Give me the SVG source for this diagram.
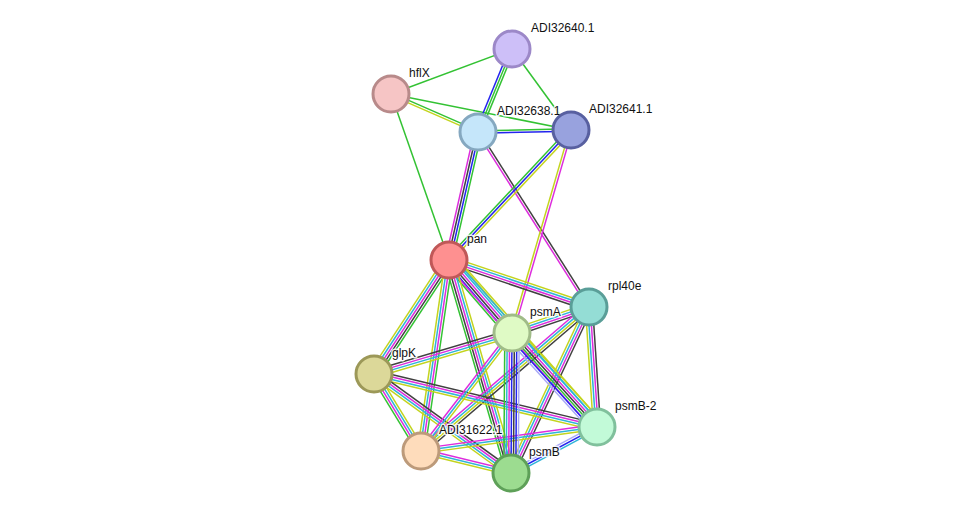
<svg xmlns="http://www.w3.org/2000/svg" width="975" height="519" viewBox="0 0 975 519">
<style>
#edges line{stroke-width:1.5;fill:none}
.g{stroke:#33c233}.b{stroke:#2424ee}.k{stroke:#404040}.m{stroke:#dd2ddd}.c{stroke:#2fb4d8}.y{stroke:#c3d41e}.h{stroke:#aaaaf6}
.node circle{stroke-width:3}
.node text{font-family:"Liberation Sans",Arial,sans-serif;font-size:12px;fill:#111;stroke:#fff;stroke-width:3;stroke-opacity:0.85;paint-order:stroke;stroke-linejoin:round}
</style>
<rect width="975" height="519" fill="#fff"/>
<g id="edges">
<g transform="translate(391,94) rotate(-20.4)"><line class="g" x2="129.1"/></g>
<g transform="translate(391,94) rotate(23.6)"><line class="g" x2="94.9" y1="-1.2" y2="-1.2"/><line class="y" x2="94.9" y1="1.2" y2="1.2"/></g>
<g transform="translate(391,94) rotate(11.3)"><line class="g" x2="183.6"/></g>
<g transform="translate(391,94) rotate(70.7)"><line class="g" x2="175.8"/></g>
<g transform="translate(512,49) rotate(112.3)"><line class="g" x2="89.7" y1="-2.4" y2="-2.4"/><line class="g" x2="89.7"/><line class="b" x2="89.7" y1="2.4" y2="2.4"/></g>
<g transform="translate(512,49) rotate(53.9)"><line class="g" x2="100.2"/></g>
<g transform="translate(478,132) rotate(-1.2)"><line class="g" x2="93" y1="-1.2" y2="-1.2"/><line class="b" x2="93" y1="1.2" y2="1.2"/></g>
<g transform="translate(478,132) rotate(102.8)"><line class="g" x2="131.2" y1="-3.6" y2="-3.6"/><line class="b" x2="131.2" y1="-1.2" y2="-1.2"/><line class="k" x2="131.2" y1="1.2" y2="1.2"/><line class="m" x2="131.2" y1="3.6" y2="3.6"/></g>
<g transform="translate(478,132) rotate(57.6)"><line class="k" x2="207.2" y1="-1.2" y2="-1.2"/><line class="m" x2="207.2" y1="1.2" y2="1.2"/></g>
<g transform="translate(571,130) rotate(133.2)"><line class="g" x2="178.3" y1="2.4" y2="2.4"/><line class="b" x2="178.3"/><line class="y" x2="178.3" y1="-2.4" y2="-2.4"/></g>
<g transform="translate(571,130) rotate(106.2)"><line class="y" x2="211.4" y1="1.2" y2="1.2"/><line class="m" x2="211.4" y1="-1.2" y2="-1.2"/></g>
<g transform="translate(449,260) rotate(18.6)"><line class="y" x2="147.7" y1="-3.6" y2="-3.6"/><line class="c" x2="147.7" y1="-1.2" y2="-1.2"/><line class="m" x2="147.7" y1="1.2" y2="1.2"/><line class="k" x2="147.7" y1="3.6" y2="3.6"/></g>
<g transform="translate(449,260) rotate(49.2)"><line class="y" x2="96.4" y1="-6" y2="-6"/><line class="c" x2="96.4" y1="-3.6" y2="-3.6"/><line class="m" x2="96.4" y1="-1.2" y2="-1.2"/><line class="k" x2="96.4" y1="1.2" y2="1.2"/><line class="b" x2="96.4" y1="3.6" y2="3.6"/><line class="g" x2="96.4" y1="6" y2="6"/></g>
<g transform="translate(449,260) rotate(48.5)"><line class="y" x2="223.1" y1="-7.2" y2="-7.2"/><line class="c" x2="223.1" y1="-4.8" y2="-4.8"/><line class="m" x2="223.1" y1="4.8" y2="4.8"/></g>
<g transform="translate(449,260) rotate(123.3)"><line class="g" x2="136.5" y1="-4.8" y2="-4.8"/><line class="k" x2="136.5" y1="-2.4" y2="-2.4"/><line class="m" x2="136.5"/><line class="c" x2="136.5" y1="2.4" y2="2.4"/><line class="y" x2="136.5" y1="4.8" y2="4.8"/></g>
<g transform="translate(449,260) rotate(98.3)"><line class="g" x2="193" y1="-3.6" y2="-3.6"/><line class="m" x2="193" y1="-1.2" y2="-1.2"/><line class="c" x2="193" y1="1.2" y2="1.2"/><line class="y" x2="193" y1="3.6" y2="3.6"/></g>
<g transform="translate(449,260) rotate(73.8)"><line class="y" x2="221.8" y1="-4.8" y2="-4.8"/><line class="c" x2="221.8" y1="-2.4" y2="-2.4"/><line class="m" x2="221.8"/><line class="k" x2="221.8" y1="2.4" y2="2.4"/><line class="g" x2="221.8" y1="4.8" y2="4.8"/></g>
<g transform="translate(589,307) rotate(161.3)"><line class="y" x2="81.3" y1="3.6" y2="3.6"/><line class="c" x2="81.3" y1="1.2" y2="1.2"/><line class="m" x2="81.3" y1="-1.2" y2="-1.2"/><line class="k" x2="81.3" y1="-3.6" y2="-3.6"/></g>
<g transform="translate(589,307) rotate(139.4)"><line class="k" x2="221.3" y1="-3.6" y2="-3.6"/><line class="y" x2="221.3" y1="-1.2" y2="-1.2"/><line class="c" x2="221.3" y1="1.2" y2="1.2"/><line class="m" x2="221.3" y1="3.6" y2="3.6"/></g>
<g transform="translate(589,307) rotate(115.2)"><line class="k" x2="183.4" y1="-3.6" y2="-3.6"/><line class="m" x2="183.4" y1="-1.2" y2="-1.2"/><line class="c" x2="183.4" y1="1.2" y2="1.2"/><line class="y" x2="183.4" y1="3.6" y2="3.6"/></g>
<g transform="translate(589,307) rotate(86.2)"><line class="k" x2="120.3" y1="-3.6" y2="-3.6"/><line class="m" x2="120.3" y1="-1.2" y2="-1.2"/><line class="c" x2="120.3" y1="1.2" y2="1.2"/><line class="y" x2="120.3" y1="3.6" y2="3.6"/></g>
<g transform="translate(374,374) rotate(-16.5)"><line class="k" x2="144" y1="-3.6" y2="-3.6"/><line class="m" x2="144" y1="-1.2" y2="-1.2"/><line class="c" x2="144" y1="1.2" y2="1.2"/><line class="y" x2="144" y1="3.6" y2="3.6"/></g>
<g transform="translate(374,374) rotate(13.4)"><line class="k" x2="229.2" y1="-3.6" y2="-3.6"/><line class="m" x2="229.2" y1="-1.2" y2="-1.2"/><line class="c" x2="229.2" y1="1.2" y2="1.2"/><line class="y" x2="229.2" y1="3.6" y2="3.6"/></g>
<g transform="translate(374,374) rotate(35.9)"><line class="k" x2="169" y1="-3.6" y2="-3.6"/><line class="m" x2="169" y1="-1.2" y2="-1.2"/><line class="c" x2="169" y1="1.2" y2="1.2"/><line class="y" x2="169" y1="3.6" y2="3.6"/></g>
<g transform="translate(374,374) rotate(58.6)"><line class="y" x2="90.2" y1="-3.6" y2="-3.6"/><line class="c" x2="90.2" y1="-1.2" y2="-1.2"/><line class="m" x2="90.2" y1="1.2" y2="1.2"/><line class="g" x2="90.2" y1="3.6" y2="3.6"/></g>
<g transform="translate(421,451) rotate(-52.4)"><line class="m" x2="149" y1="-2.4" y2="-2.4"/><line class="c" x2="149"/><line class="y" x2="149" y1="2.4" y2="2.4"/></g>
<g transform="translate(421,451) rotate(-7.8)"><line class="m" x2="177.6" y1="-2.4" y2="-2.4"/><line class="c" x2="177.6"/><line class="y" x2="177.6" y1="2.4" y2="2.4"/></g>
<g transform="translate(421,451) rotate(13.7)"><line class="m" x2="92.7" y1="-2.4" y2="-2.4"/><line class="c" x2="92.7"/><line class="y" x2="92.7" y1="2.4" y2="2.4"/></g>
<g transform="translate(512,333) rotate(90.4)"><line class="h" x2="140" y1="-7.2" y2="-7.2"/><line class="b" x2="140" y1="-4.8" y2="-4.8"/><line class="k" x2="140" y1="-2.4" y2="-2.4"/><line class="b" x2="140"/><line class="m" x2="140" y1="2.4" y2="2.4"/><line class="c" x2="140" y1="4.8" y2="4.8"/><line class="g" x2="140" y1="7.2" y2="7.2"/></g>
<g transform="translate(512,333) rotate(47.9)"><line class="y" x2="126.7" y1="-7.2" y2="-7.2"/><line class="c" x2="126.7" y1="-4.8" y2="-4.8"/><line class="m" x2="126.7" y1="-2.4" y2="-2.4"/><line class="k" x2="126.7"/><line class="g" x2="126.7" y1="2.4" y2="2.4"/><line class="b" x2="126.7" y1="4.8" y2="4.8"/><line class="h" x2="126.7" y1="7.2" y2="7.2"/></g>
<g transform="translate(511,473) rotate(-28.1)"><line class="h" x2="97.5" y1="-2.4" y2="-2.4"/><line class="b" x2="97.5"/><line class="c" x2="97.5" y1="2.4" y2="2.4"/></g>
</g>
<g id="n-ADI32640.1" class="node"><circle cx="512" cy="49" r="18" fill="#cdbff8" stroke="#9c88c8"/><text x="531" y="32">ADI32640.1</text></g>
<g id="n-hflX" class="node"><circle cx="391" cy="94" r="18" fill="#f6c5c5" stroke="#b88a8a"/><text x="409" y="77">hflX</text></g>
<g id="n-ADI32638.1" class="node"><circle cx="478" cy="132" r="18" fill="#c5e6fa" stroke="#85a8c0"/><text x="497" y="115">ADI32638.1</text></g>
<g id="n-ADI32641.1" class="node"><circle cx="571" cy="130" r="18" fill="#98a2de" stroke="#5860a0"/><text x="589" y="113">ADI32641.1</text></g>
<g id="n-pan" class="node"><circle cx="449" cy="260" r="18" fill="#fe9090" stroke="#c05858"/><text x="467" y="243">pan</text></g>
<g id="n-rpl40e" class="node"><circle cx="589" cy="307" r="18" fill="#94ddd5" stroke="#5a9e98"/><text x="608" y="290">rpl40e</text></g>
<g id="n-psmA" class="node"><circle cx="512" cy="333" r="18" fill="#dffac5" stroke="#a0bc88"/><text x="530" y="316">psmA</text></g>
<g id="n-glpK" class="node"><circle cx="374" cy="374" r="18" fill="#dcd899" stroke="#9c9858"/><text x="392" y="357">glpK</text></g>
<g id="n-psmB-2" class="node"><circle cx="597" cy="427" r="18" fill="#c2fad8" stroke="#80c09c"/><text x="615" y="410">psmB-2</text></g>
<g id="n-ADI31622.1" class="node"><circle cx="421" cy="451" r="18" fill="#fedcbb" stroke="#bc9a7a"/><text x="439" y="434">ADI31622.1</text></g>
<g id="n-psmB" class="node"><circle cx="511" cy="473" r="18" fill="#9cdc90" stroke="#5ea058"/><text x="529" y="456">psmB</text></g>
</svg>
